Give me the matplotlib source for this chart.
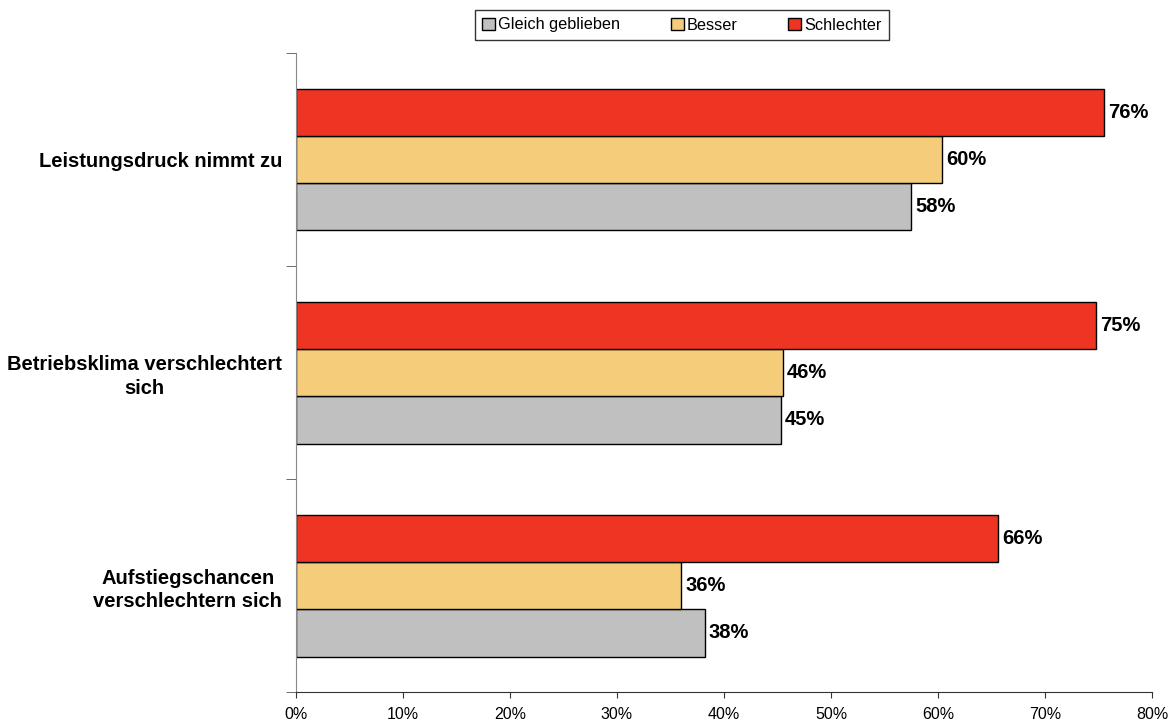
import matplotlib.pyplot as plt
import numpy as np

plt.rcParams['font.family'] = ['Liberation Sans', 'DejaVu Sans']

categories = ["Leistungsdruck nimmt zu", "Betriebsklima verschlechtert\nsich",
              "Aufstiegschancen\nverschlechtern sich"]
series = ["Gleich geblieben", "Besser", "Schlechter"]
gleich = [57.5, 45.3, 38.2]
besser = [60.4, 45.5, 36.0]
schlechter = [75.5, 74.8, 65.6]
labels_gleich = ["58%", "45%", "38%"]
labels_besser = ["60%", "46%", "36%"]
labels_schlechter = ["76%", "75%", "66%"]
colors = ["#C0C0C0", "#F5CC7A", "#EE3524"]

fig = plt.figure(figsize=(11.68, 7.21), dpi=100)
ax = fig.add_axes([296 / 1168, 29 / 721, 856 / 1168, 639 / 721])

y = np.arange(len(categories))
h = 2 / 9
data = [gleich, besser, schlechter]
labs = [labels_gleich, labels_besser, labels_schlechter]
offsets = [h, 0, -h]
handles = []
for vals, lab, off, col, name in zip(data, labs, offsets, colors, series):
    bars = ax.barh(y + off, vals, height=h, color=col, edgecolor="black",
                   linewidth=1.0, label=name)
    handles.append(bars)
    for b, t in zip(bars, lab):
        ax.annotate(t, (b.get_width(), b.get_y() + b.get_height() / 2),
                    xytext=(3, 0), textcoords="offset points",
                    ha="left", va="center", fontsize=14.5, fontweight="bold")

ax.set_ylim(2.5, -0.5)
ax.set_xlim(0, 80)
ax.set_xticks(np.arange(0, 81, 10))
ax.set_xticklabels([f"{v}%" for v in range(0, 81, 10)], fontsize=11.5)
ax.set_yticks(y)
ax.set_yticklabels(categories, fontsize=14.5, fontweight="bold",
                   multialignment="center", linespacing=1.3)
ax.tick_params(axis="y", which="major", length=0, pad=10)
ax.set_yticks([-0.5, 0.5, 1.5, 2.5], minor=True)
ax.tick_params(axis="y", which="minor", length=7, color="#555555")
ax.tick_params(axis="x", length=4, color="#333333", pad=7)

ax.spines["top"].set_visible(False)
ax.spines["right"].set_visible(False)
ax.spines["left"].set_color("#888888")
ax.spines["bottom"].set_color("#333333")

leg = fig.legend(handles, series, loc="center", bbox_to_anchor=(682 / 1168, 1 - 25 / 721),
                 ncol=3, fontsize=11.7, frameon=True, fancybox=False, edgecolor="black",
                 handlelength=0.8, handleheight=0.8, handletextpad=0.2, columnspacing=3.1,
                 borderpad=0.45, borderaxespad=0)
leg.get_frame().set_linewidth(1.0)

fig.savefig("out.png", dpi=100)
